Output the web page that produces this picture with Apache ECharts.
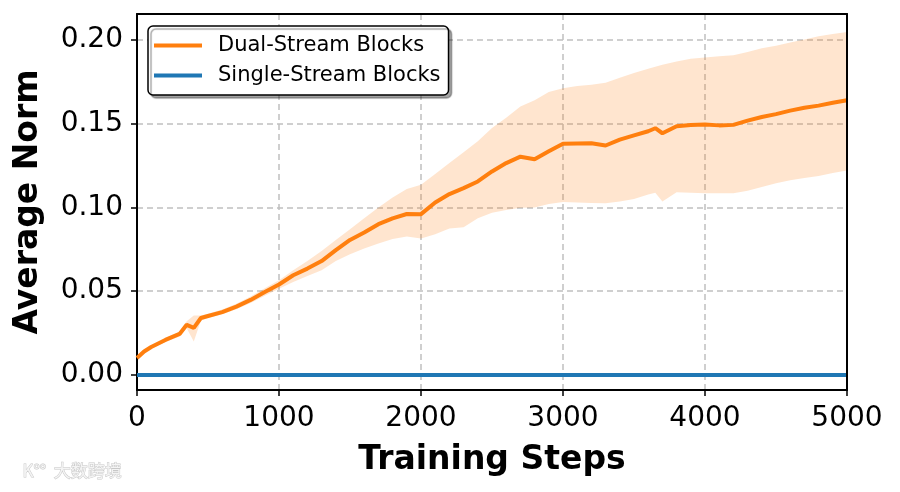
<!DOCTYPE html>
<html>
<head>
<meta charset="utf-8">
<script src="https://cdn.jsdelivr.net/npm/echarts@6/dist/echarts.min.js"></script>
<style>html,body{margin:0;padding:0;background:#fff;}#c{width:900px;height:492px;}</style>
</head>
<body>
<div id="c"></div>
<script>
const steps = [0,50,100,200,300,350,400,450,500,600,700,800,900,1000,1100,1200,1300,1400,1500,1600,1700,1800,1900,2000,2100,2200,2300,2400,2500,2600,2700,2800,2900,3000,3100,3200,3300,3400,3500,3600,3650,3700,3800,3900,4000,4100,4200,4300,4400,4500,4600,4700,4800,4900,5000];
const dualMean = [0.0101,0.0140,0.0167,0.0209,0.0245,0.0299,0.0281,0.0340,0.0352,0.0375,0.0408,0.0448,0.0495,0.0540,0.0595,0.0635,0.0680,0.0745,0.0806,0.0850,0.0900,0.0935,0.0961,0.0960,0.1030,0.1080,0.1115,0.1155,0.1215,0.1265,0.1303,0.1288,0.1335,0.1380,0.1382,0.1383,0.1370,0.1405,0.1430,0.1455,0.1473,0.1443,0.1485,0.1492,0.1495,0.1490,0.1493,0.1518,0.1540,0.1557,0.1578,0.1595,0.1608,0.1625,0.1640];
const dualUpper = [0.0110,0.0150,0.0178,0.0222,0.0260,0.0320,0.0355,0.0355,0.0365,0.0390,0.0425,0.0468,0.0518,0.0565,0.0625,0.0680,0.0740,0.0805,0.0870,0.0935,0.1000,0.1060,0.1110,0.1135,0.1200,0.1265,0.1330,0.1395,0.1475,0.1535,0.1602,0.1640,0.1690,0.1711,0.1725,0.1733,0.1745,0.1775,0.1802,0.1828,0.1840,0.1852,0.1872,0.1888,0.1895,0.1902,0.1908,0.1928,0.1950,0.1965,0.1985,0.2002,0.2022,0.2035,0.2048];
const dualLower = [0.0092,0.0130,0.0156,0.0196,0.0230,0.0278,0.0199,0.0325,0.0340,0.0362,0.0392,0.0430,0.0472,0.0515,0.0555,0.0590,0.0625,0.0680,0.0720,0.0755,0.0785,0.0812,0.0826,0.0815,0.0840,0.0875,0.0882,0.0935,0.0968,0.0985,0.0998,0.1000,0.1020,0.1032,0.1030,0.1026,0.1025,0.1035,0.1050,0.1078,0.1088,0.1035,0.1091,0.1088,0.1085,0.1085,0.1085,0.1100,0.1122,0.1144,0.1162,0.1176,0.1188,0.1205,0.1220];
const singleMean = steps.map(() => 0);
const yTicks = [0, 0.05, 0.10, 0.15, 0.20];
const xTicks = [0, 1000, 2000, 3000, 4000, 5000];

const pairs = (ys) => steps.map((s, i) => [s, ys[i]]);
const font = 'DejaVu Sans';
const X_MIN = 0, X_MAX = 5000, Y_MIN = -0.009, Y_MAX = 0.2155;
const frameAxis = {show: true, axisLine: {show: true, onZero: false, lineStyle: {color: '#000', width: 2}},
  axisTick: {show: false}, axisLabel: {show: false}, splitLine: {show: false}, z: 10};

const chart = echarts.init(document.getElementById('c'), null, {renderer: 'canvas'});
chart.setOption({
  animation: false,
  backgroundColor: '#fff',
  grid: {left: 137, right: 53, top: 14, bottom: 102},
  legend: {
    data: ['Dual-Stream Blocks', 'Single-Stream Blocks'],
    orient: 'vertical', left: 148, top: 26,
    icon: 'rect', itemWidth: 48, itemHeight: 4, itemGap: 5,
    padding: [7, 8, 7, 6],
    backgroundColor: '#fff', borderColor: '#000', borderWidth: 1.5, borderRadius: 5,
    shadowColor: 'rgba(0,0,0,0.35)', shadowOffsetX: 3, shadowOffsetY: 3, shadowBlur: 1,
    textStyle: {fontFamily: font, fontSize: 21, color: '#000', lineHeight: 25, padding: [0, 0, 0, 11]}
  },
  xAxis: [{
    type: 'value', min: X_MIN, max: X_MAX, interval: 1000,
    name: 'Training Steps', nameLocation: 'middle', nameGap: 54,
    nameTextStyle: {fontFamily: font, fontSize: 33, fontWeight: 'bold', color: '#000'},
    axisLine: {show: true, onZero: false, lineStyle: {color: '#000', width: 2}},
    axisTick: {show: true, length: 6, lineStyle: {color: '#000', width: 1.5}, customValues: xTicks},
    axisLabel: {fontFamily: font, fontSize: 28, color: '#000', margin: 15, customValues: xTicks,
      formatter: v => String(v)},
    splitLine: {show: true, lineStyle: {color: '#c0c0c0', width: 1.5, type: [6, 4]}}
  }, Object.assign({type: 'value', position: 'top', min: X_MIN, max: X_MAX}, frameAxis)],
  yAxis: [{
    type: 'value', min: Y_MIN, max: Y_MAX,
    name: 'Average Norm', nameLocation: 'middle', nameGap: 92,
    nameTextStyle: {fontFamily: font, fontSize: 33, fontWeight: 'bold', color: '#000'},
    axisLine: {show: true, onZero: false, lineStyle: {color: '#000', width: 2}},
    axisTick: {show: true, length: 6, lineStyle: {color: '#000', width: 1.5}, customValues: yTicks},
    axisLabel: {fontFamily: font, fontSize: 28, color: '#000', margin: 14, customValues: yTicks,
      formatter: v => v.toFixed(2)},
    splitLine: {show: true, lineStyle: {color: '#c0c0c0', width: 1.5, type: [6, 4]}}
  }, Object.assign({type: 'value', position: 'right', min: Y_MIN, max: Y_MAX}, frameAxis)],
  series: [
    {name: 'band', type: 'custom', silent: true, z: 1,
      data: steps.map((s, i) => [s, dualLower[i], dualUpper[i]]),
      encode: {x: 0, y: [1, 2]},
      renderItem: function (params, api) {
        if (params.dataIndex !== 0) return null;
        const pts = [];
        for (let i = 0; i < steps.length; i++) pts.push(api.coord([steps[i], dualUpper[i]]));
        for (let i = steps.length - 1; i >= 0; i--) pts.push(api.coord([steps[i], dualLower[i]]));
        return {type: 'polygon', shape: {points: pts}, style: {fill: 'rgba(255,127,14,0.2)', stroke: null}};
      }},
    {name: 'Dual-Stream Blocks', type: 'line', data: pairs(dualMean), symbol: 'none',
      lineStyle: {color: '#ff7f0e', width: 4}, itemStyle: {color: '#ff7f0e'}, z: 3},
    {name: 'Single-Stream Blocks', type: 'line', data: pairs(singleMean), symbol: 'none',
      lineStyle: {color: '#1f77b4', width: 4}, itemStyle: {color: '#1f77b4'}, z: 3}
  ],
  graphic: [
    {type: 'text', left: 22, top: 462, z: 10, style: {text: 'K°°  大数跨境', fontFamily: 'Noto Sans CJK SC', fontSize: 17,
      fill: '#f4f4f4', stroke: '#c8c8c8', lineWidth: 1}}
  ]
});
</script>
</body>
</html>
